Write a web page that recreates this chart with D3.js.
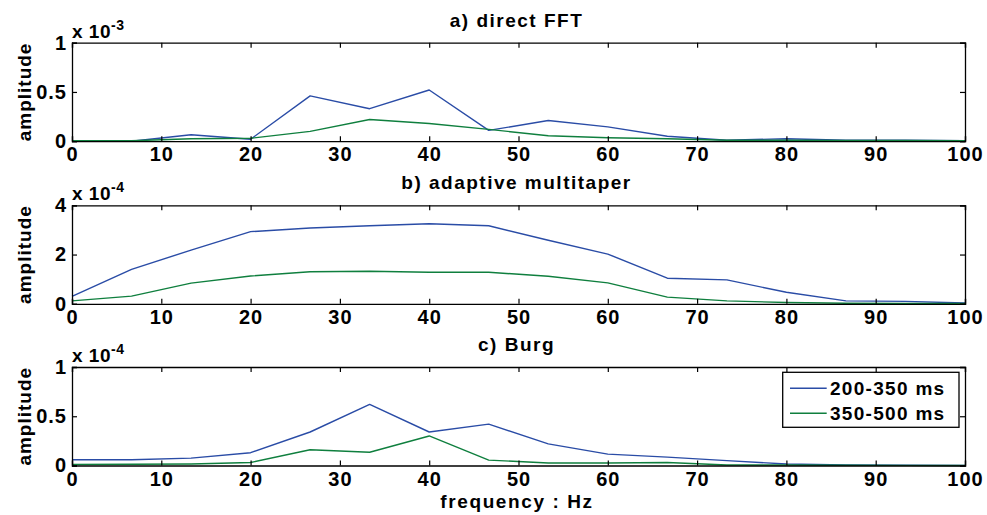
<!DOCTYPE html>
<html>
<head>
<meta charset="utf-8">
<script src="https://cdn.jsdelivr.net/npm/d3@7"></script>
<style>
  html, body { margin: 0; padding: 0; background: #fff; }
  svg { display: block; }
  text { font-family: "Liberation Sans", Arial, Helvetica, sans-serif; font-weight: bold; fill: #000; }
</style>
</head>
<body>
<svg id="chart" width="987" height="515"></svg>
<script>
// ---------- data ----------
const freqs = [0, 6.667, 13.333, 20, 26.667, 33.333, 40, 46.667, 53.333, 60, 66.667, 73.333, 80, 86.667, 93.333, 100];

// a) direct FFT  (x 1e-3)
const fftEarly = [0.0, 0.0, 0.065, 0.02, 0.46, 0.33, 0.52, 0.11, 0.21, 0.145, 0.05, 0.01, 0.025, 0.01, 0.01, 0.005];
const fftLate  = [0.005, 0.005, 0.025, 0.03, 0.10, 0.22, 0.18, 0.12, 0.055, 0.035, 0.025, 0.01, 0.01, 0.008, 0.008, 0.005];

// b) adaptive multitaper (x 1e-4)
const mtEarly = [0.30, 1.40, 2.18, 2.93, 3.08, 3.17, 3.25, 3.17, 2.58, 2.02, 1.04, 0.97, 0.47, 0.12, 0.10, 0.03];
const mtLate  = [0.12, 0.31, 0.84, 1.13, 1.30, 1.32, 1.28, 1.28, 1.12, 0.85, 0.27, 0.12, 0.05, 0.02, 0.01, 0.01];

// c) Burg (x 1e-4)
const burgEarly = [0.058, 0.058, 0.075, 0.13, 0.34, 0.62, 0.34, 0.42, 0.22, 0.115, 0.085, 0.05, 0.015, 0.005, 0.002, 0.0];
const burgLate  = [0.01, 0.012, 0.015, 0.03, 0.16, 0.135, 0.30, 0.055, 0.025, 0.025, 0.03, 0.005, 0.005, 0.002, 0.001, 0.0];

const panelTitles = ["a) direct FFT", "b) adaptive multitaper", "c) Burg"];
const panelExponents = ["-3", "-4", "-4"];
const panelYMax = [1, 4, 1];
const panelYTicks = [[0, 0.5, 1], [0, 2, 4], [0, 0.5, 1]];
const xTicks = [0, 10, 20, 30, 40, 50, 60, 70, 80, 90, 100];
const seriesNames = ["200-350 ms", "350-500 ms"];
const yLabel = "amplitude";
const xLabel = "frequency : Hz";

const panelData = [[fftEarly, fftLate], [mtEarly, mtLate], [burgEarly, burgLate]];

// ---------- style / layout ----------
const colors = ["#2a4ca6", "#0f7f3e"];
const left = 72, right = 965;
const panelTops = [42.7, 205.3, 367];
const panelH = 98.5;
const fontSize = 20;
const letterSp = "1px";

const svg = d3.select("#chart");
const x = d3.scaleLinear().domain([0, 100]).range([left, right]);

panelData.forEach((series, i) => {
  const top = panelTops[i], bottom = top + panelH;
  const y = d3.scaleLinear().domain([0, panelYMax[i]]).range([bottom, top]);
  const g = svg.append("g");

  // lines (drawn first; box on top)
  const line = d3.line().x((d, k) => x(freqs[k])).y(d => y(d));
  series.forEach((vals, s) => {
    g.append("path")
      .datum(vals)
      .attr("fill", "none")
      .attr("stroke", colors[s])
      .attr("stroke-width", 1.4)
      .attr("stroke-linejoin", "round")
      .attr("d", line);
  });

  // axes
  const fmt = d => d3.format("~g")(d);
  const axB = g.append("g").attr("transform", `translate(0,${bottom})`)
    .call(d3.axisBottom(x).tickValues(xTicks).tickSize(-5).tickPadding(6).tickFormat(fmt));
  const axT = g.append("g").attr("transform", `translate(0,${top})`)
    .call(d3.axisTop(x).tickValues(xTicks).tickSize(-5).tickFormat(""));
  const axL = g.append("g").attr("transform", `translate(${left},0)`)
    .call(d3.axisLeft(y).tickValues(panelYTicks[i]).tickSize(-5).tickPadding(5).tickFormat(fmt));
  const axR = g.append("g").attr("transform", `translate(${right},0)`)
    .call(d3.axisRight(y).tickValues(panelYTicks[i]).tickSize(-5).tickFormat(""));

  [axB, axT, axL, axR].forEach(a => {
    a.select(".domain").attr("stroke", "#000").attr("stroke-width", 1.3);
    a.selectAll(".tick line").attr("stroke", "#000").attr("stroke-width", 1.2);
    a.selectAll("text")
      .attr("font-size", fontSize)
      .attr("font-family", "'Liberation Sans', Arial, sans-serif")
      .attr("font-weight", "bold")
      .attr("letter-spacing", letterSp)
      .attr("fill", "#000");
  });

  // title
  g.append("text")
    .attr("x", (left + right) / 2 - 2)
    .attr("y", top - 16)
    .attr("text-anchor", "middle")
    .attr("font-size", 19)
    .attr("letter-spacing", "1.5px")
    .text(panelTitles[i]);

  // exponent label
  const ex = g.append("text")
    .attr("x", left)
    .attr("y", top - 5)
    .attr("font-size", 19)
    .attr("letter-spacing", "0.5px");
  ex.append("tspan").text("x 10");
  ex.append("tspan").attr("dy", -8).attr("font-size", 14).text(panelExponents[i]);

  // y label
  g.append("text")
    .attr("transform", `translate(31,${(top + bottom) / 2}) rotate(-90)`)
    .attr("text-anchor", "middle")
    .attr("font-size", 19)
    .attr("letter-spacing", "1px")
    .text(yLabel);

  // legend in last panel
  if (i === 2) {
    const lg = g.append("g");
    lg.append("rect")
      .attr("x", 782.7).attr("y", 372.3)
      .attr("width", 959 - 782.7).attr("height", 427.3 - 372.3)
      .attr("fill", "#fff").attr("stroke", "#000").attr("stroke-width", 1.3);
    seriesNames.forEach((name, s) => {
      const cy = 388.3 + s * 25;
      lg.append("line")
        .attr("x1", 790).attr("x2", 826.7)
        .attr("y1", cy).attr("y2", cy)
        .attr("stroke", colors[s]).attr("stroke-width", 1.4);
      lg.append("text")
        .attr("x", 830).attr("y", cy)
        .attr("dy", "0.36em")
        .attr("font-size", 19)
        .attr("letter-spacing", "1.3px")
        .text(name);
    });
  }
});

// x label
svg.append("text")
  .attr("x", 517)
  .attr("y", 507.5)
  .attr("text-anchor", "middle")
  .attr("font-size", 19)
  .attr("letter-spacing", "1.6px")
  .text(xLabel);
</script>
</body>
</html>
